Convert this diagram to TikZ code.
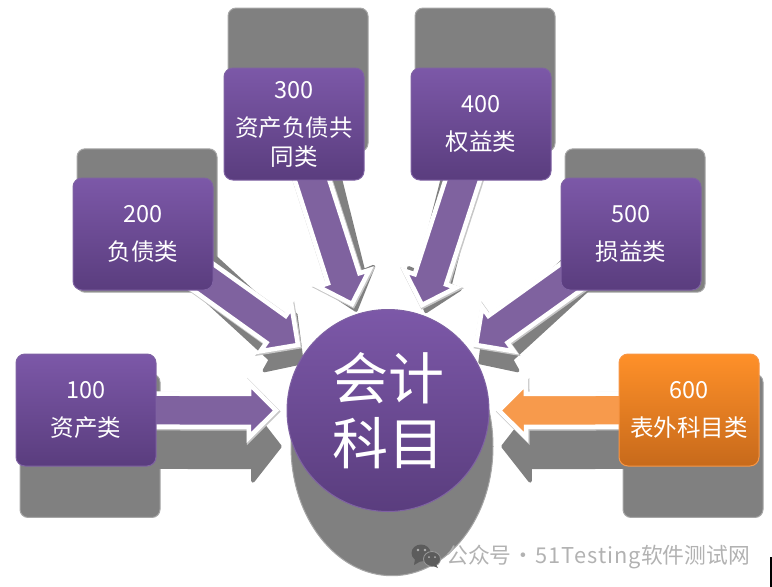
\documentclass[tikz,border=0pt]{standalone}
\usepackage{fontspec}
\setmainfont{Noto Sans CJK SC}
\pgfdeclarelayer{shadowlayer}
\pgfdeclarelayer{arrowlayer}
\pgfsetlayers{shadowlayer,arrowlayer,main}
\definecolor{ptop}{HTML}{7C58A8}
\definecolor{pbot}{HTML}{5A3D7E}
\definecolor{pline}{HTML}{7F62A3}
\definecolor{parrow}{HTML}{7F629F}
\definecolor{otop}{HTML}{FF9029}
\definecolor{obot}{HTML}{C76A1B}
\definecolor{oline}{HTML}{F79646}
\definecolor{oarrow}{HTML}{F79A4C}
\definecolor{sgray}{HTML}{808080}
\definecolor{wgray}{HTML}{B2B2B2}
\definecolor{icongray}{HTML}{5C5C5C}
\tikzset{
  catbox/.style={rectangle,rounded corners=9pt,minimum width=140pt,minimum height=112pt,
    inner sep=0pt,outer sep=0pt,line width=1pt,draw=pline,top color=ptop,bottom color=pbot,
    text=white,align=center,font=\fontsize{23.5}{29}\selectfont},
  orangebox/.style={catbox,draw=oline,top color=otop,bottom color=obot},
  hub/.style={circle,minimum size=202pt,inner sep=0pt,outer sep=0pt,line width=1pt,draw=pline,
    top color=ptop,bottom color=pbot,text=white,align=center,font=\fontsize{56}{65}\selectfont},
  blockarrow/.style={draw=white,line width=4.5pt,miter limit=10,line join=miter},
  softedge/.style={draw=black!22,line width=5.5pt,miter limit=10,line join=miter},
  shadowfill/.style={fill=sgray,draw=sgray!70,line width=1pt},
  shadowtf/.style={shift={(4pt,79pt)},yscale=1.28},
}
% block arrow in a frame that runs from one named point to another
\newcommand\arrowpath[3]{%
  \path (#1); \pgfgetlastxy{\ax}{\ay}%
  \path (#2); \pgfgetlastxy{\bx}{\by}%
  \pgfmathsetmacro\alen{veclen(\bx-\ax,\by-\ay)}%
  \pgfmathsetmacro\aang{atan2(\by-\ay,\bx-\ax)}%
  \pgfmathsetmacro\ahl{\alen-27}%
  \begin{scope}[#3]
  \begin{scope}[shift={(\ax,\ay)},rotate=\aang]
    \path[arrowstyle] (0pt,16.5pt) -- (\ahl pt,16.5pt) -- (\ahl pt,27pt) -- (\alen pt,0pt)
      -- (\ahl pt,-27pt) -- (\ahl pt,-16.5pt) -- (0pt,-16.5pt) -- cycle;
  \end{scope}
  \end{scope}}
\newcommand\mainarrow[3]{%
  \tikzset{arrowstyle/.style={softedge}}\arrowpath{#1}{#2}{shift={(0.8pt,-1pt)}}%
  \tikzset{arrowstyle/.style={blockarrow,fill=#3}}\arrowpath{#1}{#2}{}}
\newcommand\shadowarrow[2]{\tikzset{arrowstyle/.style={fill=sgray,draw=sgray,line width=3.5pt,line join=round}}\arrowpath{#1}{#2}{shadowtf}}
\newcommand\boxshadow[1]{%
  \path (#1.south west); \pgfgetlastxy{\ax}{\ay}%
  \path (#1.north east); \pgfgetlastxy{\bx}{\by}%
  \begin{scope}[shadowtf]
    \path[shadowfill,rounded corners=8pt] (\ax,\ay) rectangle (\bx,\by);
  \end{scope}}
\begin{document}
\begin{tikzpicture}[x=1pt,y=-1pt]
\useasboundingbox (0,0) rectangle (772,587);
% boxes and hub
\node[catbox] (b100) at (86,410) {100\\[9pt]资产类};
\node[catbox] (b200) at (143,234) {200\\[9pt]负债类};
\node[catbox] (b300) at (294,124) {300\\[9pt]资产负债共\\同类};
\node[catbox] (b400) at (481,124) {400\\[9pt]权益类};
\node[catbox] (b500) at (631,234) {500\\[9pt]损益类};
\node[orangebox] (b600) at (689,410) {600\\[9pt]表外科目类};
\node[hub] (hub) at (388,410.5) {\raisebox{2pt}{\parbox{120pt}{\centering 会计\\科目}}};
% arrow tips, just off the hub
\coordinate (t100) at (276,410.5);
\coordinate (t200) at (298,345);
\coordinate (t300) at (352,304);
\coordinate (t400) at (422,305);
\coordinate (t500) at (476,345);
\coordinate (t600) at (499,410.5);
% shadows
\begin{pgfonlayer}{shadowlayer}
  \foreach \b in {b100,b200,b300,b400,b500,b600}{\boxshadow{\b}}
  \path (hub.center); \pgfgetlastxy{\hx}{\hy}
  \begin{scope}[shadowtf]
    \path[shadowfill] (\hx,\hy) circle (101pt);
  \end{scope}
  \foreach \n in {100,200,300,400,500,600}{\shadowarrow{b\n}{t\n}}
\end{pgfonlayer}
% arrows
\begin{pgfonlayer}{arrowlayer}
  \foreach \n in {100,200,300,400,500}{\mainarrow{b\n.center}{t\n}{parrow}}
  \mainarrow{b600.center}{t600}{oarrow}
\end{pgfonlayer}
% watermark
\fill[icongray] (421,553) ellipse (9.5pt and 8.5pt);
\fill[icongray] (415,559) -- (414,565) -- (421,561) -- cycle;
\fill[icongray,draw=sgray!80!white,line width=.8pt] (432,559) ellipse (8.5pt and 7.5pt);
\fill[icongray] (436,564) -- (438,568) -- (431,565) -- cycle;
\fill[sgray!60!white] (418,550) circle (1.3pt) (425,550) circle (1.3pt) (429,557) circle (1pt) (435,557) circle (1pt);
\node[anchor=west,inner sep=0pt,text=wgray,font=\fontsize{21.8}{24}\selectfont] (wm) at (446,557) {公众号\hspace{-4pt} · \hspace{-4pt}{\addfontfeature{LetterSpace=5}51Testing}软件测试网};
% sliver at lower right corner
\fill[black] (770,557) rectangle (772,587);
\end{tikzpicture}
\end{document}
